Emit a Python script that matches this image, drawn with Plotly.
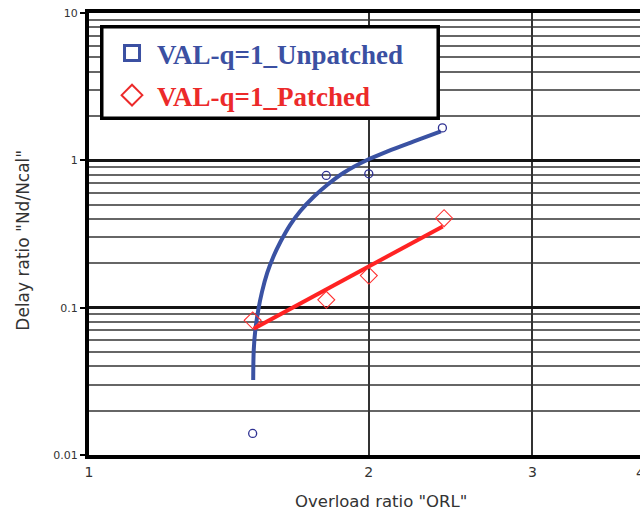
import plotly.graph_objects as go

# ---- data ----
orl_unpatched = [1.5, 1.8, 2.0, 2.4]
delay_unpatched = [0.014, 0.79, 0.81, 1.66]
orl_patched = [1.5, 1.8, 2.0, 2.41]
delay_patched = [0.082, 0.113, 0.165, 0.405]

# trend lines
trend_unpatched_x = [1.502, 1.504, 1.510, 1.521, 1.535, 1.555, 1.578, 1.607, 1.646,
                     1.689, 1.745, 1.805, 1.879, 1.994, 2.095, 2.236, 2.391]
trend_unpatched_y = [0.0323, 0.0517, 0.0707, 0.0966, 0.128, 0.172, 0.220, 0.280, 0.365,
                     0.455, 0.566, 0.683, 0.824, 1.01, 1.15, 1.344, 1.572]
trend_patched_x = [1.504, 1.994, 2.402]
trend_patched_y = [0.072, 0.190, 0.356]

x_tickvals = [1, 2, 3]
x_ticktext = ["1", "2", "3"]
y_tickvals = [0.01, 0.1, 1, 10]
y_ticktext = ["0.01", "0.1", "1", "10"]
y_minorvals = [m * d for d in (0.01, 0.1, 1) for m in range(2, 10)]

name_unpatched = "VAL-q=1_Unpatched"
name_patched = "VAL-q=1_Patched"
x_title = 'Overload ratio "ORL"'
y_title = 'Delay ratio "Nd/Ncal"'

BLUE_LINE = "#3a52a3"
BLUE_MARK = "#2e3192"
BLUE_TEXT = "#3b50a2"
RED_LINE = "#ff2323"
RED_MARK = "#ff3030"
RED_TEXT = "#ec2a2a"

fig = go.Figure()

fig.add_trace(go.Scatter(x=trend_unpatched_x, y=trend_unpatched_y, mode="lines",
                         line=dict(color=BLUE_LINE, width=4, shape="spline", smoothing=1.0),
                         showlegend=False, hoverinfo="skip"))
fig.add_trace(go.Scatter(x=trend_patched_x, y=trend_patched_y, mode="lines",
                         line=dict(color=RED_LINE, width=4),
                         showlegend=False, hoverinfo="skip"))
fig.add_trace(go.Scatter(x=orl_unpatched, y=delay_unpatched, mode="markers",
                         marker=dict(symbol="circle-open", size=8, color=BLUE_MARK,
                                     line=dict(width=1.3, color=BLUE_MARK)),
                         showlegend=False))
fig.add_trace(go.Scatter(x=orl_patched, y=delay_patched, mode="markers",
                         marker=dict(symbol="diamond-open", size=13, color=RED_MARK,
                                     line=dict(width=1.1, color=RED_MARK)),
                         showlegend=False))

# legend entries
fig.add_trace(go.Scatter(x=[None], y=[None], mode="markers", legendgroup="a",
                         name=f'<span style="color:{BLUE_TEXT}">{name_unpatched}</span>',
                         marker=dict(symbol="square-open", size=15, color=BLUE_TEXT,
                                     line=dict(width=3, color=BLUE_TEXT))))
fig.add_trace(go.Scatter(x=[None], y=[None], mode="markers", legendgroup="b",
                         name=f'<span style="color:{RED_TEXT}">{name_patched}</span>',
                         marker=dict(symbol="diamond-open", size=16, color=RED_TEXT,
                                     line=dict(width=2.0, color=RED_TEXT))))

fig.update_layout(
    width=640, height=514,
    margin=dict(l=89, r=0, t=13, b=59, pad=0),
    paper_bgcolor="white", plot_bgcolor="white",
    showlegend=True,
    legend=dict(x=0.0327, y=0.9638, xanchor="left", yanchor="top",
                bgcolor="rgba(0,0,0,0)", borderwidth=0,
                font=dict(family="Liberation Serif", size=27, weight="bold"),
                tracegroupgap=4, itemwidth=40, traceorder="grouped"),
    shapes=[dict(type="rect", xref="paper", yref="paper",
                 x0=0.02314, x1=0.6338, y0=0.7619, y1=0.9689,
                 line=dict(color="black", width=3.5), fillcolor="white", layer="above")],
    xaxis=dict(type="log", range=[0, 0.5928], tickvals=x_tickvals, ticktext=x_ticktext,
               showgrid=True, gridcolor="#333333", gridwidth=1.5,
               showline=True, linecolor="black", linewidth=4, mirror=True,
               ticks="", ticklabelstandoff=1, automargin=False,
               tickfont=dict(family="DejaVu Sans", size=14, color="#333333")),
    yaxis=dict(type="log", range=[-2, 1], tickvals=y_tickvals, ticktext=y_ticktext,
               showgrid=True, gridcolor="#141414", gridwidth=2.5,
               minor=dict(tickvals=y_minorvals, showgrid=True, gridcolor="#666666",
                          gridwidth=1.5, ticks=""),
               showline=True, linecolor="black", linewidth=4,
               ticks="outside", ticklen=5, tickwidth=2, tickcolor="black",
               automargin=False,
               tickfont=dict(family="DejaVu Sans", size=11, color="#333333")),
    annotations=[
        dict(text="4", xref="paper", yref="paper", x=0.989, y=-0.0407,
             xanchor="left", yanchor="middle", showarrow=False,
             font=dict(family="DejaVu Sans", size=14, color="#333333")),
        dict(text=x_title, xref="paper", yref="paper", x=0.5300, y=-0.1041,
             xanchor="center", yanchor="middle", showarrow=False,
             font=dict(family="DejaVu Sans", size=16.5, color="#333333")),
        dict(text=y_title, xref="paper", yref="paper", x=-0.1189, y=0.486,
             xanchor="center", yanchor="middle", showarrow=False, textangle=-90,
             font=dict(family="DejaVu Sans", size=17, color="#333333")),
    ],
)

fig.write_html("out.html")
